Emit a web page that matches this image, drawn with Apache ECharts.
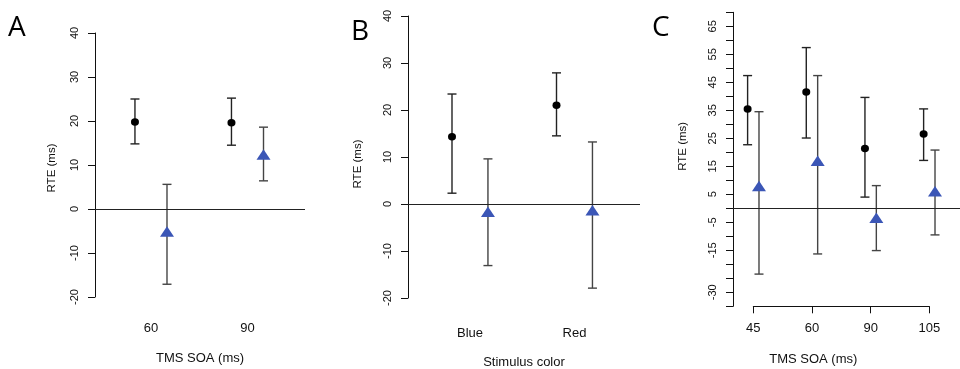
<!DOCTYPE html>
<html>
<head>
<meta charset="utf-8">
<script src="https://cdn.jsdelivr.net/npm/echarts@6/dist/echarts.min.js"></script>
<style>
  html, body { margin: 0; padding: 0; background: #fff; }
  #chart { width: 960px; height: 369px; }
</style>
</head>
<body>
<div id="chart"></div>
<script>
// panel A: TMS SOA
const catsA = ['60', '90']
const aDotMean = [19.8, 19.6]
const aDotLow = [14.8, 14.5]
const aDotHigh = [25.0, 25.2]
const aTriMean = [-5.5, 12.0]
const aTriLow = [-17.1, 6.4]
const aTriHigh = [5.6, 18.6]

// panel B: stimulus color
const catsB = ['Blue', 'Red']
const bDotMean = [14.3, 21.0]
const bDotLow = [2.3, 14.5]
const bDotHigh = [23.4, 27.9]
const bTriMean = [-2.0, -1.7]
const bTriLow = [-13.1, -17.9]
const bTriHigh = [9.6, 13.2]

// panel C: TMS SOA
const catsC = ['45', '60', '90', '105']
const cDotMean = [35.5, 41.5, 21.4, 26.5]
const cDotLow = [22.7, 25.1, 4.0, 17.1]
const cDotHigh = [47.4, 57.4, 39.6, 35.5]
const cTriMean = [7.3, 16.4, -4.0, 5.5]
const cTriLow = [-23.5, -16.3, -15.1, -9.5]
const cTriHigh = [34.5, 47.4, 8.1, 20.8]
const cYLabels = [65, 55, 45, 35, 25, 15, 5, -5, -15, -30]

const FONT = 'Liberation Sans'
const BLUE = '#3b56b6'
const TRI = [14, 10.5]

const chart = echarts.init(document.getElementById('chart'))

const errBars = (gi, lo, hi, off, color, zero) => {
  const s = {
    type: 'custom',
    xAxisIndex: gi,
    yAxisIndex: gi,
    silent: true,
    encode: { x: 0, y: [1, 2] },
    data: lo.map((v, i) => [i + 1 + off, v, hi[i]]),
    renderItem: (params, api) => {
      const a = api.coord([api.value(0), api.value(1)])
      const b = api.coord([api.value(0), api.value(2)])
      const st = { stroke: color, lineWidth: 1.4 }
      const cap = 4.5
      return {
        type: 'group',
        children: [
          { type: 'line', shape: { x1: a[0], y1: a[1], x2: b[0], y2: b[1] }, style: st },
          { type: 'line', shape: { x1: a[0] - cap, y1: a[1], x2: a[0] + cap, y2: a[1] }, style: st },
          { type: 'line', shape: { x1: b[0] - cap, y1: b[1], x2: b[0] + cap, y2: b[1] }, style: st }
        ]
      }
    }
  }
  if (zero) {
    s.markLine = {
      silent: true,
      symbol: ['none', 'none'],
      label: { show: false },
      lineStyle: { color: '#222', type: 'solid', width: 1 },
      data: [{ yAxis: 0 }]
    }
  }
  return s
}

const points = (gi, mean, off, shape) => ({
  type: 'scatter',
  xAxisIndex: gi,
  yAxisIndex: gi,
  silent: true,
  z: 5,
  symbol: shape === 'dot' ? 'circle' : 'triangle',
  symbolSize: shape === 'dot' ? [8, 7.5] : TRI,
  symbolOffset: shape === 'dot' ? [0, 0] : [0, -TRI[1] / 6],
  itemStyle: { color: shape === 'dot' ? '#000' : BLUE, opacity: 1 },
  data: mean.map((v, i) => [i + 1 + off, v])
})

// namePad shifts the rotated title along the axis
const yAxisBase = (gi, min, max, interval, nameGap, namePad) => ({
  gridIndex: gi,
  type: 'value',
  min, max, interval,
  name: 'RTE (ms)',
  nameLocation: 'middle',
  nameGap,
  nameTextStyle: { fontFamily: FONT, fontSize: 11.5, color: '#111', padding: namePad },
  axisLine: { show: true, lineStyle: { color: '#111', width: 1 } },
  axisTick: { show: true, length: 7, lineStyle: { color: '#111' } },
  axisLabel: { rotate: 90, fontFamily: FONT, fontSize: 11, color: '#111', margin: 15 },
  splitLine: { show: false }
})

const xHidden = (gi, min, max, cats, margin, name, nameGap) => ({
  gridIndex: gi,
  type: 'value',
  min, max,
  axisLine: { show: false },
  axisTick: { show: false },
  splitLine: { show: false },
  axisLabel: {
    customValues: cats.map((c, i) => i + 1),
    formatter: (v) => cats[Math.round(v) - 1] || '',
    fontFamily: FONT, fontSize: 13, color: '#111', margin
  },
  name,
  nameLocation: 'middle',
  nameGap,
  nameTextStyle: { fontFamily: FONT, fontSize: 13, color: '#111' }
})

const option = {
  backgroundColor: '#fff',
  animation: false,
  grid: [
    { left: 95, top: 33, width: 210, height: 264, outerBoundsMode: 'none' },
    { left: 408, top: 16, width: 232, height: 282, outerBoundsMode: 'none' },
    { left: 733, top: 12.3, width: 227, height: 294, outerBoundsMode: 'none' },
    { left: 753.3, top: 12.3, width: 176, height: 294, outerBoundsMode: 'none' }
  ],
  xAxis: [
    xHidden(0, 0.42, 2.596, catsA, 25, 'TMS SOA (ms)', 55),
    xHidden(1, 0.407, 2.627, catsB, 29, 'Stimulus color', 58),
    {
      gridIndex: 2, type: 'value', min: 0.654, max: 4.523,
      axisLine: { show: false }, axisTick: { show: false },
      axisLabel: { show: false }, splitLine: { show: false }
    },
    {
      gridIndex: 3, type: 'value', min: 1, max: 4, interval: 1,
      position: 'bottom',
      axisLine: { show: true, onZero: false, lineStyle: { color: '#111', width: 1 } },
      axisTick: { show: true, length: 7, lineStyle: { color: '#111' } },
      splitLine: { show: false },
      axisLabel: {
        formatter: (v) => catsC[v - 1],
        fontFamily: FONT, fontSize: 13, color: '#111', margin: 16
      },
      name: 'TMS SOA (ms)',
      nameLocation: 'middle',
      nameGap: 47,
      nameTextStyle: { fontFamily: FONT, fontSize: 13, color: '#111', padding: [0, 56, 0, 0] }
    }
  ],
  yAxis: [
    yAxisBase(0, -20, 40, 10, 37, [0, 6, 0, 0]),
    yAxisBase(1, -20, 40, 10, 44, [0, 14, 0, 0]),
    Object.assign(yAxisBase(2, -35, 70, 5, 44, [0, 0, 0, 26]), {
      axisLabel: {
        rotate: 90, fontFamily: FONT, fontSize: 11, color: '#111', margin: 15,
        formatter: (v) => (cYLabels.indexOf(v) >= 0 ? String(v) : '')
      }
    }),
    {
      gridIndex: 3, type: 'value', min: -35, max: 70, show: false
    }
  ],
  graphic: [
    { type: 'text', left: 8, top: 14, style: { text: 'A', font: '28px "Open Sans"', fill: '#000' } },
    { type: 'text', left: 351, top: 18, style: { text: 'B', font: '28px "Open Sans"', fill: '#000' } },
    { type: 'text', left: 652, top: 14, style: { text: 'C', font: '28px "Open Sans"', fill: '#000' } }
  ],
  series: [
    errBars(0, aDotLow, aDotHigh, -0.166, '#222', true),
    errBars(0, aTriLow, aTriHigh, 0.166, '#444', false),
    points(0, aDotMean, -0.166, 'dot'),
    points(0, aTriMean, 0.166, 'tri'),

    errBars(1, bDotLow, bDotHigh, -0.172, '#222', true),
    errBars(1, bTriLow, bTriHigh, 0.172, '#444', false),
    points(1, bDotMean, -0.172, 'dot'),
    points(1, bTriMean, 0.172, 'tri'),

    errBars(2, cDotLow, cDotHigh, -0.097, '#222', true),
    errBars(2, cTriLow, cTriHigh, 0.097, '#444', false),
    points(2, cDotMean, -0.097, 'dot'),
    points(2, cTriMean, 0.097, 'tri')
  ]
}

chart.setOption(option)
</script>
</body>
</html>
